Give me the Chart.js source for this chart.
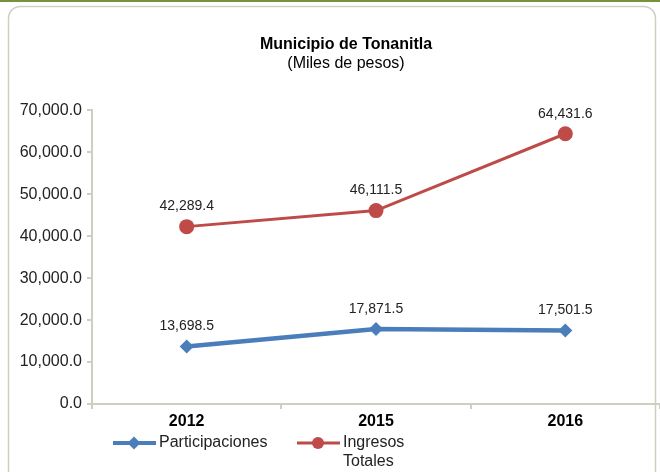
<html>

<head>
    <meta charset="utf-8">
    <title>Municipio de Tonanitla</title>
    <script src="https://cdn.jsdelivr.net/npm/chart.js@4.4.1/dist/chart.umd.min.js"></script>
    <style>
        body {
            margin: 0;
            background: #ffffff;
        }

        .wrap {
            width: 660px;
            height: 472px;
        }
    </style>
</head>

<body>
    <div class="wrap">
        <canvas id="myChart" width="660" height="472"></canvas>
    </div>

    <script>

        // datos
        var years = ['2012', '2015', '2016'];
        var participaciones = [13698.5, 17871.5, 17501.5];
        var ingresosTotales = [42289.4, 46111.5, 64431.6];
        var seriesNames = ['Participaciones', ['Ingresos', 'Totales']];

        var FONT = '"Liberation Sans", Arial, sans-serif';
        var BLUE = '#4A7EBB';
        var RED = '#BE4B48';

        function fmt(v) {
            return v.toLocaleString('en-US', { minimumFractionDigits: 1, maximumFractionDigits: 1 });
        }

        // marco, etiquetas de datos y leyenda
        var decorPlugin = {
            id: 'decor',
            afterLayout(chart) {
                // centrar titulo y subtitulo un poco a la derecha
                chart.boxes.forEach(function (b) {
                    if (b.position === 'top' && b.fullSize) {
                        b.left = 32;
                        b.right = 660;
                    }
                });
            },
            beforeDraw(chart) {
                let ctx = chart.ctx;
                ctx.save();
                ctx.fillStyle = '#77933C';
                ctx.fillRect(0, 0, chart.width, 2);
                ctx.strokeStyle = '#CDD0C0';
                ctx.lineWidth = 1.5;
                ctx.beginPath();
                ctx.roundRect(8.5, 6.5, 647, 480, 12);
                ctx.stroke();
                ctx.restore();
            },
            afterDatasetsDraw(chart) {
                let ctx = chart.ctx;
                ctx.save();
                ctx.font = '14px ' + FONT;
                ctx.fillStyle = '#222222';
                ctx.textAlign = 'center';
                ctx.textBaseline = 'middle';
                chart.data.datasets.forEach(function (ds, i) {
                    chart.getDatasetMeta(i).data.forEach(function (pt, j) {
                        ctx.fillText(fmt(ds.data[j]), pt.x, pt.y - 20);
                    });
                });

                // leyenda
                let items = [
                    { x: 113, color: BLUE, width: 4, style: 'rectRot', text: seriesNames[0] },
                    { x: 297, color: RED, width: 3, style: 'circle', text: seriesNames[1] }
                ];
                let y = 443;
                ctx.font = '16px ' + FONT;
                ctx.textAlign = 'left';
                items.forEach(function (it) {
                    ctx.strokeStyle = it.color;
                    ctx.lineWidth = it.width;
                    ctx.beginPath();
                    ctx.moveTo(it.x, y);
                    ctx.lineTo(it.x + 43, y);
                    ctx.stroke();
                    ctx.fillStyle = it.color;
                    Chart.helpers.drawPoint(ctx, { pointStyle: it.style, radius: it.style == 'circle' ? 6 : 6.5, rotation: 0, borderWidth: 0 }, it.x + 21, y);
                    ctx.fillStyle = '#222222';
                    let lines = [].concat(it.text);
                    lines.forEach(function (t, k) {
                        ctx.fillText(t, it.x + 46, y + k * 19);
                    });
                });
                ctx.restore();
            }
        };

        var config = {
            type: 'line',
            data: {
                labels: years,
                datasets: [
                    {
                        label: 'Participaciones',
                        data: participaciones,
                        borderColor: BLUE,
                        backgroundColor: BLUE,
                        borderWidth: 4.5,
                        pointStyle: 'rectRot',
                        pointRadius: 7,
                        pointBorderWidth: 0,
                        tension: 0
                    },
                    {
                        label: 'Ingresos Totales',
                        data: ingresosTotales,
                        borderColor: RED,
                        backgroundColor: RED,
                        borderWidth: 3,
                        pointStyle: 'circle',
                        pointRadius: 7.5,
                        pointBorderWidth: 0,
                        tension: 0
                    }
                ]
            },
            options: {
                responsive: false,
                animation: false,
                layout: {
                    autoPadding: false,
                    padding: { left: 8, right: 0, top: 0, bottom: 0 }
                },
                plugins: {
                    legend: { display: false },
                    tooltip: { enabled: false },
                    title: {
                        display: true,
                        text: 'Municipio de Tonanitla',
                        color: '#000000',
                        font: { family: FONT, size: 16, weight: 'bold' },
                        padding: { top: 35, bottom: 0 }
                    },
                    subtitle: {
                        display: true,
                        text: '(Miles de pesos)',
                        color: '#000000',
                        font: { family: FONT, size: 16 },
                        padding: { top: 0, bottom: 37 }
                    }
                },
                scales: {
                    x: {
                        offset: true,
                        afterFit: function (scale) { scale.height = 68; },
                        grid: {
                            offset: true,
                            drawOnChartArea: false,
                            tickLength: 5,
                            color: '#CDD0C0',
                            lineWidth: 2
                        },
                        border: { color: '#CDD0C0', width: 2 },
                        ticks: {
                            padding: 3,
                            color: '#000000',
                            font: { family: FONT, size: 16, weight: 'bold' }
                        }
                    },
                    y: {
                        min: 0,
                        max: 70000,
                        afterFit: function (scale) { scale.width = 84; },
                        grid: {
                            drawOnChartArea: false,
                            tickLength: 5,
                            color: '#CDD0C0',
                            lineWidth: 2
                        },
                        border: { color: '#CDD0C0', width: 2 },
                        ticks: {
                            stepSize: 10000,
                            padding: 5,
                            color: '#222222',
                            font: { family: FONT, size: 16 },
                            callback: function (v) { return fmt(v); }
                        }
                    }
                }
            },
            plugins: [decorPlugin]
        };

        var myChart = new Chart(document.getElementById('myChart'), config);

    </script>
</body>

</html>
